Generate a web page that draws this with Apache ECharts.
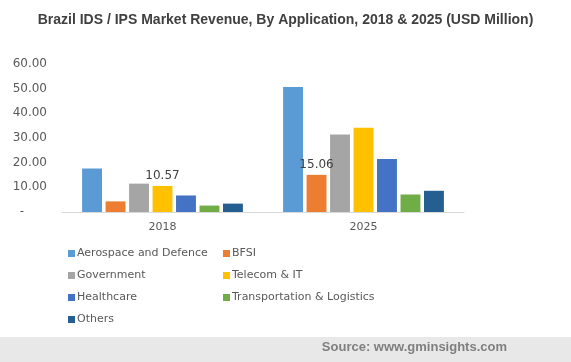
<!DOCTYPE html>
<html><head><meta charset="utf-8">
<script src="https://cdn.jsdelivr.net/npm/echarts@6/dist/echarts.min.js"></script>
<style>html,body{margin:0;padding:0;background:#fff}#c{width:571px;height:362px}</style>
</head><body><div id="c"></div>
<script>
const categories = ['2018', '2025'];
const seriesNames = ['Aerospace and Defence', 'BFSI', 'Government', 'Telecom & IT', 'Healthcare', 'Transportation & Logistics', 'Others'];
const aerospace = [17.6, 50.7];
const bfsi = [4.3, 15.06];
const government = [11.5, 31.4];
const telecom = [10.57, 34.2];
const healthcare = [6.7, 21.5];
const transport = [2.6, 7.1];
const others = [3.4, 8.6];
const yTicks = [0, 10, 20, 30, 40, 50, 60];
const labelled = {'Telecom & IT': 0, 'BFSI': 1};
const colors = ['#5b9bd5', '#ed7d31', '#a5a5a5', '#ffc000', '#4472c4', '#70ad47', '#255e91'];
const values = [aerospace, bfsi, government, telecom, healthcare, transport, others];

const chart = echarts.init(document.getElementById('c'), null, {renderer: 'canvas'});
const series = seriesNames.map((name, i) => ({
  name, type: 'bar',
  barGap: '18%', barCategoryGap: '20%',
  itemStyle: {color: colors[i]},
  data: values[i].map((v, j) => {
    const d = {value: v};
    if (labelled[name] === j) {
      d.label = {show: true, position: 'top', distance: 4, color: '#404040', fontFamily: 'DejaVu Sans', fontSize: 12, formatter: p => p.value.toFixed(2)};
    }
    return d;
  })
}));
const legendCommon = {orient: 'vertical', itemWidth: 7, itemHeight: 7, itemGap: 11, icon: 'rect',
  textStyle: {color: '#595959', fontFamily: 'DejaVu Sans', fontSize: 11, padding: [0, 0, 0, -3]}};
chart.setOption({
  color: colors,
  animation: false,
  title: {text: 'Brazil IDS / IPS Market Revenue, By Application, 2018 & 2025 (USD Million)', left: 'center', top: 8,
    textStyle: {fontFamily: 'Liberation Sans', fontWeight: 'bold', fontSize: 14, color: '#404040'}},
  grid: {left: 62, right: 107, top: 64, bottom: 150, containLabel: false},
  xAxis: {type: 'category', data: categories,
    axisLine: {lineStyle: {color: '#d9d9d9'}}, axisTick: {show: false},
    axisLabel: {color: '#595959', fontFamily: 'DejaVu Sans', fontSize: 11, margin: 10}},
  yAxis: {type: 'value', min: yTicks[0], max: yTicks[yTicks.length - 1], interval: 10,
    axisLine: {show: false}, axisTick: {show: false}, splitLine: {show: false},
    axisLabel: {color: '#595959', fontFamily: 'DejaVu Sans', fontSize: 12, margin: 15,
      formatter: v => v === 0 ? '-      ' : v.toFixed(2)}},
  legend: [
    Object.assign({left: 63, top: 243, data: [seriesNames[0], seriesNames[2], seriesNames[4], seriesNames[6]]}, legendCommon),
    Object.assign({left: 218, top: 243, data: [seriesNames[1], seriesNames[3], seriesNames[5]]}, legendCommon)
  ],
  graphic: [
    {type: 'rect', shape: {x: 0, y: 337, width: 571, height: 25}, style: {fill: '#e8e8e8'}, z: -1},
    {type: 'text', right: 64, top: 341, style: {text: 'Source: www.gminsights.com', fill: '#7f7f7f', font: 'bold 13px "Liberation Sans"'}}
  ],
  series
});
</script></body></html>
